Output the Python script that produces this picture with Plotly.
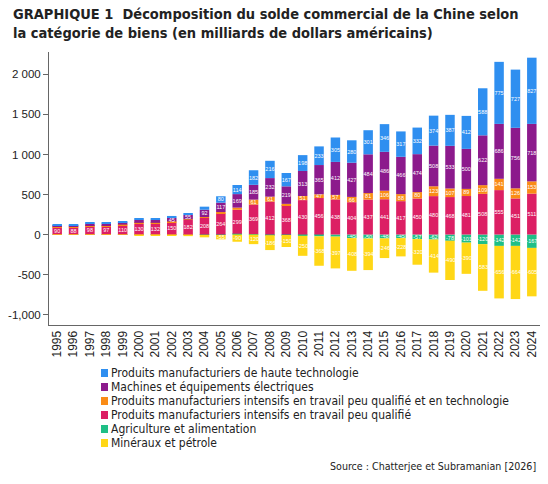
import plotly.graph_objects as go

years = [str(y) for y in range(1995, 2025)]

high_tech = [9, 9, 13, 13, 15, 20, 20, 24, 20, 38, 80, 114, 182, 216, 167, 198, 233, 305, 280, 301,
             346, 317, 332, 374, 387, 412, 588, 775, 727, 827]
machines = [12, 13, 24, 24, 28, 38, 38, 45, 55, 92, 117, 169, 185, 232, 219, 313, 365, 412, 427, 484,
            486, 466, 474, 508, 533, 500, 622, 686, 756, 718]
low_skill_tech = [8, 9, 12, 13, 12, 14, 12, 12, 8, 10, 17, 27, 61, 61, 15, 51, 47, 57, 66, 81,
                  106, 88, 80, 123, 107, 89, 109, 141, 126, 153]
low_skill = [90, 88, 98, 97, 110, 130, 132, 150, 182, 208, 264, 299, 369, 412, 368, 430, 456, 438, 404, 437,
             441, 417, 450, 480, 468, 481, 508, 555, 451, 511]
agriculture = [3, 3, 3, 3, 2, 2, 2, 1, -2, -3, -5, 10, 6, -8, -6, -16, -22, -26, -45, -50,
               -48, -45, -57, -62, -78, -101, -120, -142, -142, -167]
minerals = [-2, -2, -3, -3, -4, -6, -8, -12, -18, -32, -55, -90, -120, -186, -150, -250, -368, -397, -408, -394,
            -246, -228, -320, -414, -490, -390, -583, -656, -664, -605]

series_names = [
    "Produits manufacturiers de haute technologie",
    "Machines et équipements électriques",
    "Produits manufacturiers intensifs en travail peu qualifié et en technologie",
    "Produits manufacturiers intensifs en travail peu qualifié",
    "Agriculture et alimentation",
    "Minéraux et pétrole",
]
series_values = [high_tech, machines, low_skill_tech, low_skill, agriculture, minerals]
colors = ["#2f8ff0", "#8c1a8c", "#fa8c16", "#dc1f64", "#1fbf86", "#ffd716"]

y_tickvals = [-1000, -500, 0, 500, 1000, 1500, 2000]
y_ticktext = ["-1,000", "-500", "0", "500", "1 000", "1 500", "2 000"]

# plot-area geometry in pixels
W, H = 548, 484
L, R, T, B = 49, 8, 52, 159
PW, PH = W - L - R, H - T - B
LABEL_MIN = 40  # segments smaller than this are too thin for a readable label


def px(xp):
    return (xp - L) / PW


def py(yp):
    return (H - B - yp) / PH


fig = go.Figure()
# stacking order: agriculture first (closest to zero below), then minerals; positives pink -> orange -> purple -> blue
order = [4, 5, 3, 2, 1, 0]
for i in order:
    vals = series_values[i]
    labels = [f"{v:.0f}" if abs(v) >= LABEL_MIN else "" for v in vals]
    fig.add_trace(go.Bar(
        x=years, y=vals, name=series_names[i],
        marker=dict(color=colors[i], line=dict(width=0)),
        text=labels, texttemplate="%{text}",
        textposition="inside", insidetextanchor="middle", textangle=0,
        textfont=dict(color="white", size=5.5, family="Liberation Sans"),
        showlegend=False,
    ))

fig.update_layout(
    width=W, height=H,
    barmode="relative", bargap=0.42,
    plot_bgcolor="white", paper_bgcolor="white",
    margin=dict(l=L, r=R, t=T, b=B),
    uniformtext=dict(minsize=5.5, mode="show"),
    xaxis=dict(
        type="category", tickangle=-90, showline=True, linecolor="#666666", linewidth=1,
        ticks="", tickfont=dict(family="Liberation Sans", size=12, color="#222222"),
        showgrid=False, zeroline=False,
    ),
    yaxis=dict(
        range=[-1130, 2280], tickvals=y_tickvals, ticktext=y_ticktext,
        showline=True, linecolor="#666666", linewidth=1, ticks="outside", ticklen=5,
        tickcolor="#666666", tickfont=dict(family="Liberation Sans", size=11.5, color="#222222"),
        showgrid=False, zeroline=False,
    ),
)

fig.add_annotation(
    text="<b>GRAPHIQUE 1  Décomposition du solde commercial de la Chine selon<br>la catégorie de biens (en milliards de dollars américains)</b>",
    xref="paper", yref="paper", x=px(11), y=py(4), xanchor="left", yanchor="top", align="left",
    showarrow=False, font=dict(family="DejaVu Sans Condensed", size=14.5, color="#222222"),
)

# manual compact legend
legend_top = 373
for k, (name, col) in enumerate(zip(series_names, colors)):
    yc = legend_top + 14 * k
    fig.add_shape(type="rect", xref="paper", yref="paper",
                  x0=px(101), x1=px(108), y0=py(yc + 4), y1=py(yc - 4),
                  fillcolor=col, line=dict(width=0))
    fig.add_annotation(text=name, xref="paper", yref="paper", x=px(109), y=py(yc),
                       xanchor="left", yanchor="middle", showarrow=False,
                       font=dict(family="DejaVu Sans Condensed", size=12, color="#222222"))

fig.add_annotation(text="Source : Chatterjee et Subramanian [2026]", xref="paper", yref="paper",
                   x=px(538), y=py(466), xanchor="right", yanchor="middle", showarrow=False,
                   font=dict(family="DejaVu Sans Condensed", size=10.6, color="#222222"))

fig.write_html("out.html")
